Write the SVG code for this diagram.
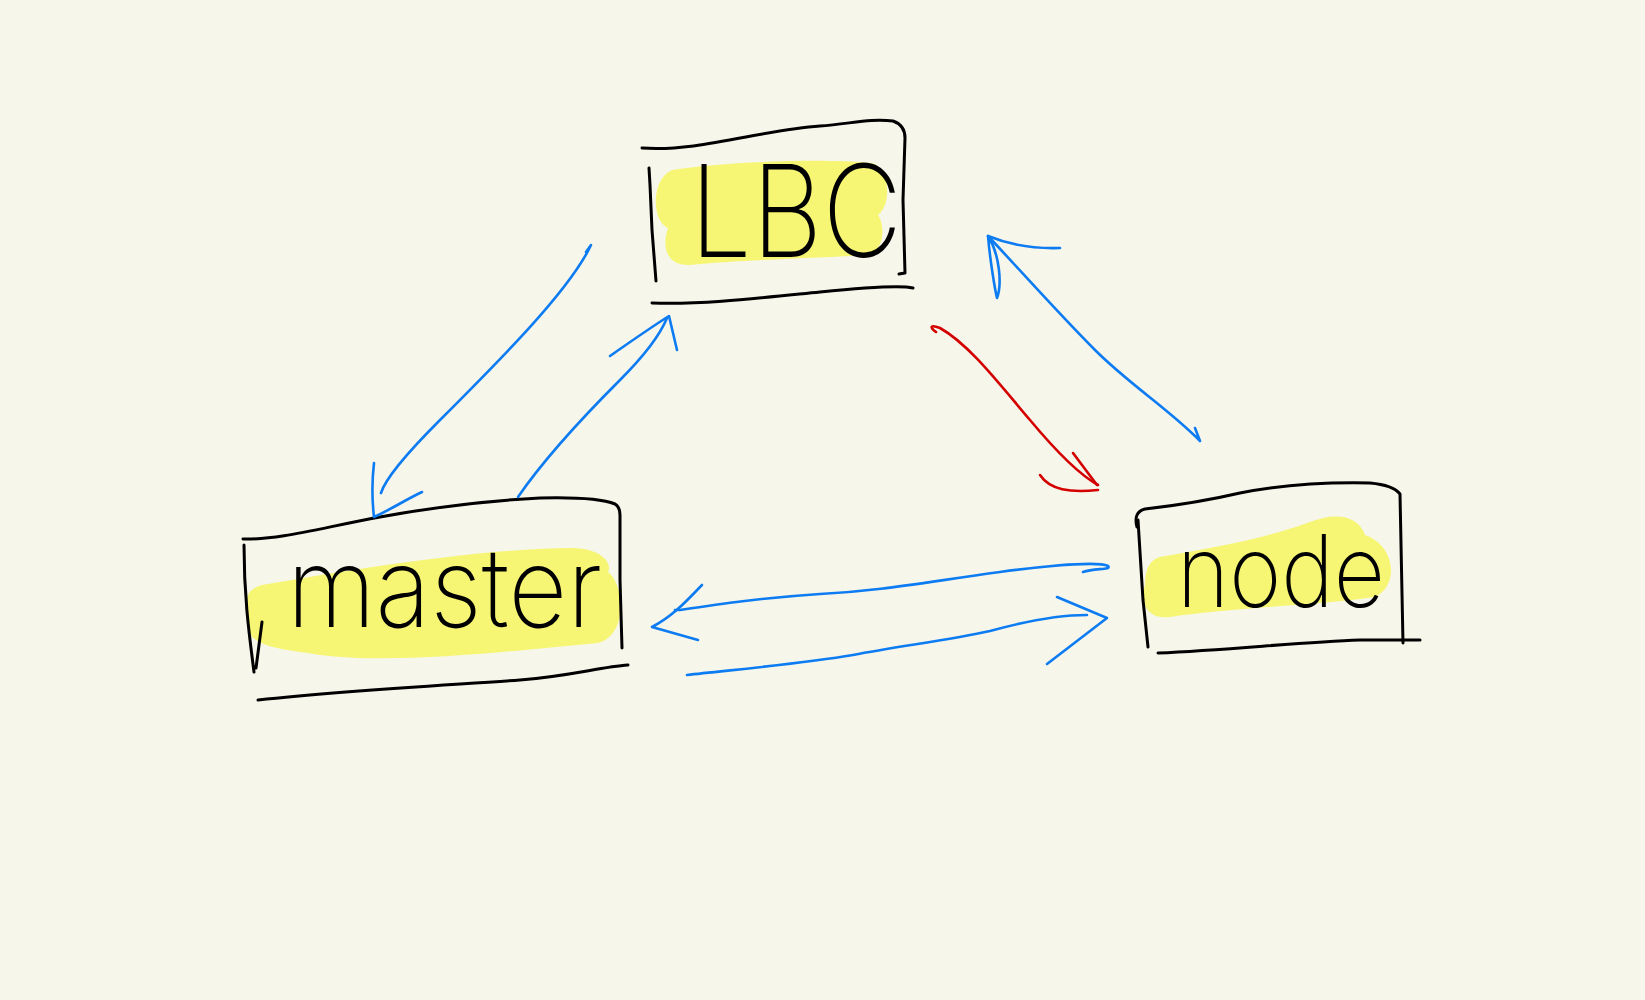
<svg xmlns="http://www.w3.org/2000/svg" width="1645" height="1000" viewBox="0 0 1645 1000">
<style>
.ink{fill:none;stroke:#000;stroke-width:3;stroke-linecap:round;stroke-linejoin:round}
.hl{fill:#f6f674;stroke:none}
.lbl{font-family:"Inter","Lato","Noto Sans","Liberation Sans",sans-serif;font-weight:200;fill:#000}
.blue{fill:none;stroke:#0d7cf2;stroke-width:2.6;stroke-linecap:round;stroke-linejoin:round}
.red{fill:none;stroke:#d40000;stroke-width:2.6;stroke-linecap:round;stroke-linejoin:round}
</style>
<rect width="1645" height="1000" fill="#f7f6eb"/>
<g id="node-lbc">
<path class="hl" d="M672,170 C720,162 820,158 872,163 C890,168 892,205 878,215 C885,225 885,250 868,255 C820,258 740,260 690,265 C665,266 662,245 668,228 C652,222 650,180 672,170 Z"/>
<path class="ink" d="M642,148 C700,152 760,130 820,126 C850,124 870,118 893,121 Q905,125 905,138 L903,200 L905,273 L899,274"/>
<path class="ink" d="M649,168 L650,185 L652,230 L656,281"/>
<path class="ink" d="M652,303 C700,305 760,298 820,292 C870,287 900,285 913,288"/>
<text class="lbl" x="690" y="257" font-size="128" textLength="212" lengthAdjust="spacingAndGlyphs">LBC</text>
</g>
<g id="node-master">
<path class="hl" d="M262,585 C350,570 480,548 575,548 C605,550 612,565 608,572 C625,585 628,635 598,643 C520,650 400,665 320,655 C290,650 250,648 248,628 C243,600 245,590 262,585 Z"/>
<path class="ink" d="M243,539 C280,540 320,528 380,517 C440,506 500,500 540,498 C580,497 605,500 615,504 Q620,507 620,515 L620,580 L622,648"/>
<path class="ink" d="M244,545 C244,600 250,640 254,672 M262,622 L256,668"/>
<path class="ink" d="M258,700 C350,690 450,685 520,680 C570,676 600,667 628,665"/>
<text class="lbl" x="287" y="627" font-size="110" textLength="315" lengthAdjust="spacingAndGlyphs">master</text>
</g>
<g id="node-node">
<path class="hl" d="M1160,557 C1210,548 1260,540 1310,522 C1335,512 1358,515 1365,535 C1395,545 1400,585 1375,597 C1320,605 1230,608 1170,617 C1145,620 1140,600 1145,585 C1145,568 1150,560 1160,557 Z"/>
<path class="ink" d="M1137,527 Q1133,512 1145,509 C1180,505 1210,500 1240,493 C1280,485 1320,482 1370,483 Q1393,485 1400,494 L1403,643"/>
<path class="ink" d="M1138,520 L1143,600 L1148,647"/>
<path class="ink" d="M1158,653 C1230,650 1300,642 1360,640 L1420,640"/>
<text class="lbl" x="1177" y="607" font-size="100" textLength="208" lengthAdjust="spacingAndGlyphs">node</text>
</g>
<g id="connectors">
<path class="blue" d="M586,252 L591,245 C570,290 500,360 440,420 C400,460 385,480 381,493"/>
<path class="blue" d="M374,463 C372,480 372,500 374,517 C390,510 405,500 422,492"/>
<path class="blue" d="M518,497 C540,465 580,420 620,380 C645,355 660,335 667,318"/>
<path class="blue" d="M610,356 C630,342 650,328 669,316 L677,350"/>
<path class="blue" d="M988,236 C1020,270 1060,315 1095,350 C1130,385 1170,410 1200,441 L1195,428"/>
<path class="blue" d="M1060,248 C1030,249 1005,243 988,236 C990,260 995,290 997,298 C1002,285 1000,255 988,236"/>
<path class="red" d="M936,332 C928,326 932,325 940,328 C970,345 1000,385 1030,420 C1055,450 1080,475 1098,485"/>
<path class="red" stroke-width="4" d="M1073,453 L1097,485 M1040,475 C1050,490 1070,493 1098,490"/>
<path class="blue" d="M1083,572 C1095,568 1112,570 1108,566 C1100,562 1060,564 1000,572 C920,583 880,591 820,594 C760,598 720,604 680,610 L675,610"/>
<path class="blue" d="M702,585 C690,597 675,615 652,627 L698,640"/>
<path class="blue" d="M687,675 C730,670 800,664 853,655 C900,646 950,640 990,631 C1030,620 1060,615 1087,615"/>
<path class="blue" stroke-width="4.5" d="M1057,597 L1107,618 L1047,664"/>
</g>
</svg>
